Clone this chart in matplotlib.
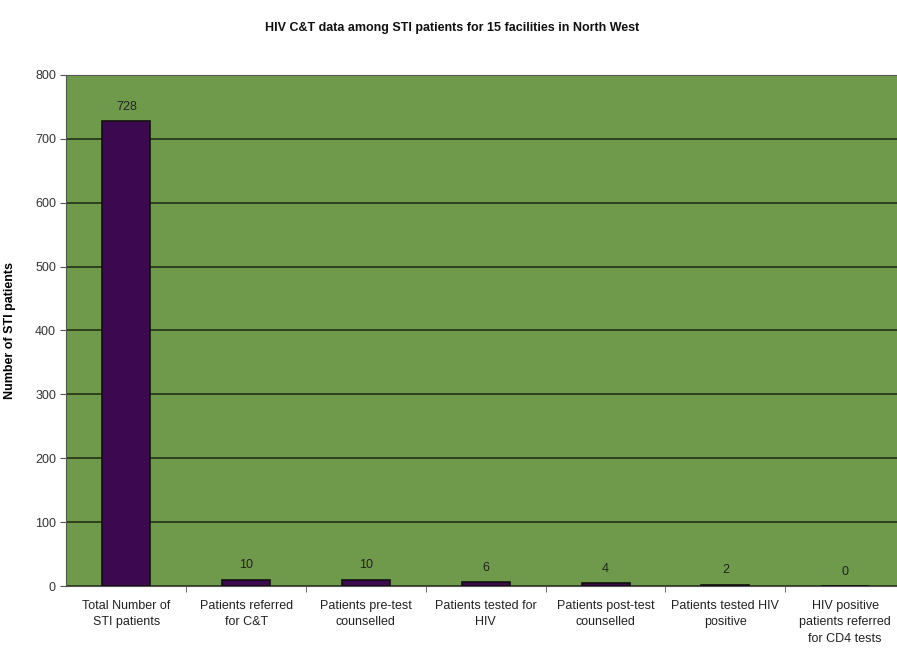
import numpy as np
import matplotlib.pyplot as plt

categories = ["Total Number of\nSTI patients", "Patients referred\nfor C&T",
              "Patients pre-test\ncounselled", "Patients tested for\nHIV",
              "Patients post-test\ncounselled", "Patients tested HIV\npositive",
              "HIV positive\npatients referred\nfor CD4 tests"]
values = [728, 10, 10, 6, 4, 2, 0]
yticks = [0, 100, 200, 300, 400, 500, 600, 700, 800]

plt.rcParams['font.family'] = ['Liberation Sans', 'DejaVu Sans']

fig = plt.figure(figsize=(8.97, 6.57), dpi=100)
ax = fig.add_axes([0.074, 0.108, 0.935, 0.778])
ax.set_facecolor("#6f9a4c")

x = np.arange(len(values))
ax.bar(x, values, width=0.4, color="#3c0850", edgecolor="#111111", linewidth=1.2, zorder=3)

for xi, v in zip(x, values):
    ax.annotate(str(v), (xi, v), xytext=(0, 6), textcoords="offset points",
                ha="center", va="bottom", fontsize=9, color="#222222")

ax.set_xlim(-0.5, len(values) - 0.5)
ax.set_ylim(0, 800)
ax.set_yticks(yticks)
ax.tick_params(axis="y", labelsize=9, length=4, color="#555555", labelcolor="#333333")
ax.yaxis.grid(True, color="#1a2a10", linewidth=1.1, zorder=1)
ax.set_axisbelow(True)

ax.set_xticks(x)
ax.set_xticklabels(categories, fontsize=9, color="#222222", linespacing=1.5, va="top")
ax.tick_params(axis="x", length=0, pad=10)
ax.set_xticks(np.arange(len(values) - 1) + 0.5, minor=True)
ax.tick_params(axis="x", which="minor", length=4, color="#555555")

for s in ["left", "bottom", "top"]:
    ax.spines[s].set_color("#555555")
ax.spines["right"].set_visible(False)

ax.set_ylabel("Number of STI patients", fontsize=9, fontweight="bold", labelpad=14)
fig.text(0.504, 0.957, "HIV C&T data among STI patients for 15 facilities in North West",
         ha="center", va="center", fontsize=9, fontweight="bold", color="#111111")

fig.savefig("out.png", dpi=100)
